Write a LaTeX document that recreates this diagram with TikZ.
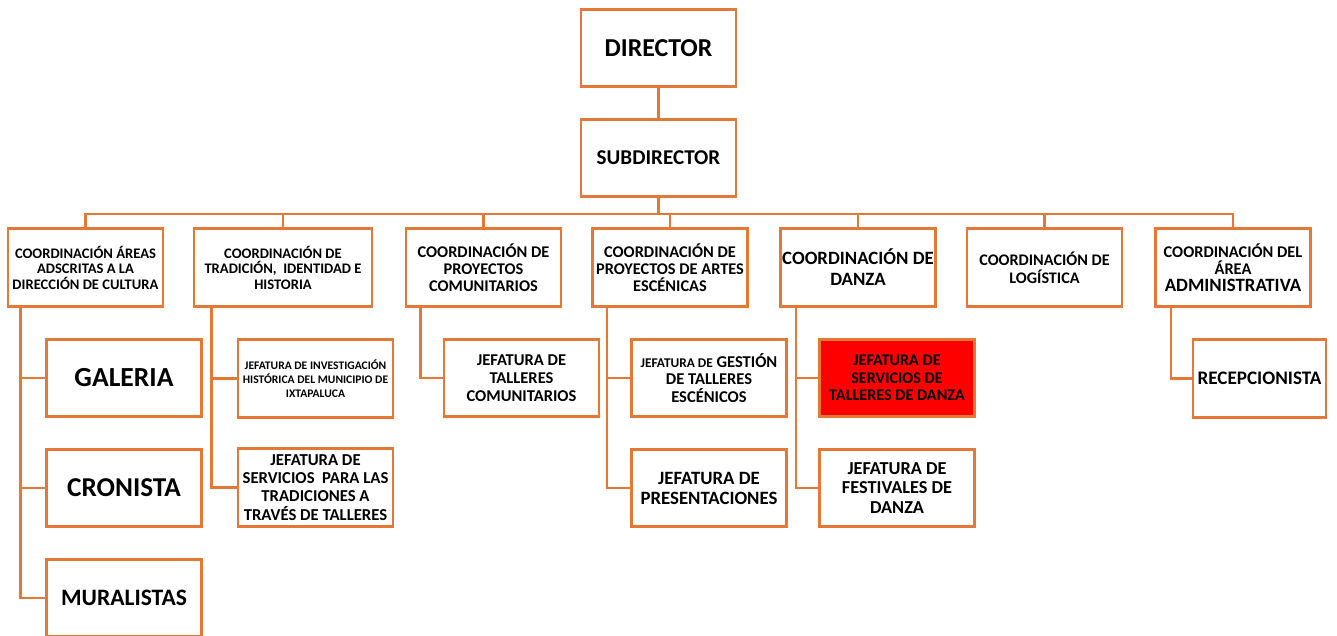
\documentclass[tikz,border=0pt]{standalone}
\usepackage{fontspec}
\setmainfont{Carlito}
\usetikzlibrary{positioning,calc}
\definecolor{orgline}{RGB}{229,120,52}
\definecolor{rojo}{RGB}{255,0,0}

\begin{document}
\begin{tikzpicture}[x=0.02cm,y=-0.02cm,
box/.style={draw=orgline,line width=1.6pt,fill=white,align=center,inner sep=1pt,
  minimum width=3.1cm,minimum height=1.55cm},
line/.style={draw=orgline,line width=1.3pt}]
\useasboundingbox (0,0) rectangle (1337,635);

% direccion
\node (dir) at (658.5,48) [box,font=\bfseries\fontsize{14.7}{17}\selectfont] {DIRECTOR};
\node (sub) at (658.5,158) [box,font=\bfseries\fontsize{12}{14}\selectfont] {SUBDIRECTOR};

% coordinaciones
\node (c1) at (85.5,267.5) [box,font=\bfseries\fontsize{8.3}{8.8}\selectfont] {COORDINACIÓN ÁREAS\\ADSCRITAS A LA\\DIRECCIÓN DE CULTURA};
\node (c2) at (283,267.5) [box,minimum width=3.56cm,font=\bfseries\fontsize{8.3}{8.8}\selectfont] {COORDINACIÓN DE\\TRADICIÓN,\ \ IDENTIDAD E\\HISTORIA};
\node (c3) at (483.5,267.5) [box,font=\bfseries\fontsize{9.3}{9.6}\selectfont] {COORDINACIÓN DE\\PROYECTOS\\COMUNITARIOS};
\node (c4) at (670,267.5) [box,font=\bfseries\fontsize{9.3}{9.6}\selectfont] {COORDINACIÓN DE\\PROYECTOS DE ARTES\\ESCÉNICAS};
\node (c5) at (858,267.5) [box,font=\bfseries\fontsize{10.7}{12}\selectfont] {COORDINACIÓN DE\\DANZA};
\node (c6) at (1044.5,267.5) [box,font=\bfseries\fontsize{9.2}{10.2}\selectfont] {COORDINACIÓN DE\\LOGÍSTICA};
\node (c7) at (1233,267.5) [box,font=\bfseries\fontsize{9.3}{9.8}\selectfont] {COORDINACIÓN DEL\\ÁREA\\{\fontsize{10.7}{11.5}\selectfont ADMINISTRATIVA}};

% jefaturas
\node (g1) at (124,378) [box,font=\bfseries\fontsize{15.7}{18}\selectfont] {GALERIA};
\node (g2) at (124,488) [box,font=\bfseries\fontsize{15.5}{18}\selectfont] {CRONISTA};
\node (g3) at (124,598) [box,font=\bfseries\fontsize{13.4}{16}\selectfont] {MURALISTAS};
\node (t1) at (315.5,378.5) [box,font=\bfseries\fontsize{6.6}{8}\selectfont] {JEFATURA DE INVESTIGACIÓN\\HISTÓRICA DEL MUNICIPIO DE\\IXTAPALUCA};
\node (t2) at (315.5,487.5) [box,font=\bfseries\fontsize{9.5}{10.4}\selectfont] {JEFATURA DE\\SERVICIOS\ \ PARA LAS\\TRADICIONES A\\TRAVÉS DE TALLERES};
\node (p1) at (521.5,378) [box,font=\bfseries\fontsize{9.4}{10.2}\selectfont] {JEFATURA DE\\TALLERES\\COMUNITARIOS};
\node (a1) at (709,378) [box,font=\bfseries\fontsize{9.4}{10}\selectfont] {{\fontsize{7.6}{9}\selectfont JEFATURA DE} GESTIÓN\\DE TALLERES\\ESCÉNICOS};
\node (a2) at (709,488) [box,font=\bfseries\fontsize{10.7}{11.4}\selectfont] {JEFATURA DE\\PRESENTACIONES};
\node (d1) at (897,378) [box,fill=rojo,font=\bfseries\fontsize{9.2}{9.9}\selectfont] {JEFATURA DE\\SERVICIOS DE\\TALLERES DE DANZA};
\node (d2) at (897,488) [box,font=\bfseries\fontsize{10.4}{11.3}\selectfont] {JEFATURA DE\\FESTIVALES DE\\DANZA};
\node (r1) at (1259.5,378.5) [box,minimum width=2.66cm,font=\bfseries\fontsize{10.9}{12}\selectfont] {RECEPCIONISTA};

% lineas
\draw[line] (dir) -- (sub);
\draw[line] (sub.south) -- ++(0,16) coordinate (bus);
\foreach \c in {c1,c2,c3,c4,c5,c6,c7}
  \draw[line] (bus) -| (\c.north);

\draw[line] (c1.south west) ++(14,0) |- (g1.west);
\draw[line] (c1.south west) ++(14,0) |- (g2.west);
\draw[line] (c1.south west) ++(14,0) |- (g3.west);
\draw[line] (c2.south west) ++(19,0) |- (t1.west);
\draw[line] (c2.south west) ++(19,0) |- (t2.west);
\draw[line] (c3.south west) ++(16,0) |- (p1.west);
\draw[line] (c4.south west) ++(16,0) |- (a1.west);
\draw[line] (c4.south west) ++(16,0) |- (a2.west);
\draw[line] (c5.south west) ++(17,0) |- (d1.west);
\draw[line] (c5.south west) ++(17,0) |- (d2.west);
\draw[line] (c7.south west) ++(17,0) |- (r1.west);

\end{tikzpicture}
\end{document}
